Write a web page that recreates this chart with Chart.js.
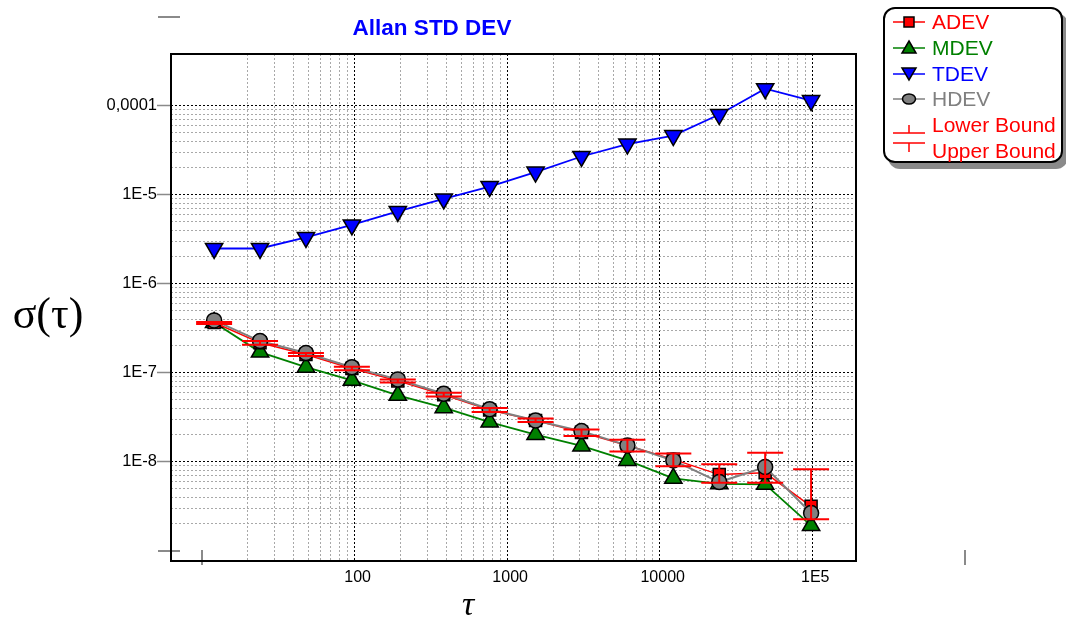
<!DOCTYPE html>
<html>
<head>
<meta charset="utf-8">
<script src="https://cdn.jsdelivr.net/npm/chart.js@4.4.1/dist/chart.umd.min.js"></script>
<style>
body { margin: 0; background: #fff; }
#wrap { position: relative; width: 1066px; height: 628px; overflow: hidden; font-family: "Liberation Sans", Arial, sans-serif; }
#chart { position: absolute; left: 0; top: 0; }
#title { position: absolute; left: 232px; width: 400px; top: 17px; line-height: 22px; text-align: center; color: #0000ff; font-weight: bold; font-size: 22.5px; }
#ylab { position: absolute; left: 0; width: 96px; top: 289px; line-height: 50px; text-align: center; font-family: "Liberation Serif", "Times New Roman", serif; font-size: 44px; }
#xlab { position: absolute; left: 418px; width: 100px; top: 584px; line-height: 40px; text-align: center; font-family: "Liberation Serif", "Times New Roman", serif; font-style: italic; font-size: 34px; }
#legend { position: absolute; left: 883px; top: 7px; width: 176px; height: 152px; border: 2px solid #000; border-radius: 12px; background: #fff; box-shadow: 5px 6px 0 #8a8a8a; }
#legend .row { position: absolute; left: 0; height: 24px; width: 176px; }
#legend .row svg { position: absolute; left: 0; top: 0; }
#legend .row span { position: absolute; left: 47px; top: 0; line-height: 24px; font-size: 21px; white-space: nowrap; }
</style>
</head>
<body>
<div id="wrap">
  <canvas id="chart" width="1066" height="628"></canvas>
  <div id="title">Allan STD DEV</div>
  <div id="ylab">σ(τ)</div>
  <div id="xlab">τ</div>
  <div id="legend"></div>
</div>
<script>
// averaging times (s)
const tau = [12, 24, 48, 96, 192, 384, 768, 1536, 3072, 6144, 12288, 24576, 49152, 98304];

// deviations
const adev = [3.66e-7, 2.16e-7, 1.60e-7, 1.11e-7, 8.07e-8, 5.65e-8, 3.79e-8, 2.90e-8, 2.13e-8, 1.52e-8, 1.06e-8, 7.14e-9, 7.48e-9, 3.14e-9];
const mdev = [3.66e-7, 1.70e-7, 1.15e-7, 8.18e-8, 5.55e-8, 4.03e-8, 2.78e-8, 2.01e-8, 1.50e-8, 1.03e-8, 6.48e-9, 5.63e-9, 5.55e-9, 1.91e-9];
const tdev = [2.48e-6, 2.48e-6, 3.30e-6, 4.56e-6, 6.46e-6, 8.93e-6, 1.23e-5, 1.79e-5, 2.68e-5, 3.70e-5, 4.61e-5, 7.93e-5, 1.55e-4, 1.14e-4];
const hdev = [3.86e-7, 2.26e-7, 1.66e-7, 1.15e-7, 8.39e-8, 5.79e-8, 3.88e-8, 2.90e-8, 2.20e-8, 1.52e-8, 1.03e-8, 5.89e-9, 8.69e-9, 2.64e-9];

// ADEV confidence bounds
const lowerBound = [3.52e-7, 2.06e-7, 1.54e-7, 1.06e-7, 7.76e-8, 5.40e-8, 3.60e-8, 2.78e-8, 1.94e-8, 1.30e-8, 8.84e-9, 5.80e-9, 5.80e-9, 2.25e-9];
const upperBound = [3.71e-7, 2.26e-7, 1.66e-7, 1.16e-7, 8.39e-8, 5.92e-8, 3.99e-8, 3.04e-8, 2.30e-8, 1.76e-8, 1.23e-8, 9.31e-9, 1.26e-8, 8.18e-9];

// axes
const xRange = [6.26, 1.936e5];
const yRange = [7.64e-10, 3.80e-4];
const xTickValues = [100, 1000, 10000, 100000];
const xTickText = ['100', '1000', '10000', '1E5'];
const yTickValues = [1e-8, 1e-7, 1e-6, 1e-5, 1e-4];
const yTickText = ['1E-8', '1E-7', '1E-6', '1E-5', '0,0001'];
const xGridDecades = [1, 2, 3, 4];
const yGridDecades = [-9, -8, -7, -6, -5];
const xOuterTicks = [10, 1e6];
const yOuterTicks = [1e-9, 1e-3];

const FONT = '"Liberation Sans", Arial, sans-serif';

function gridValues(decades) {
    const out = [];
    decades.forEach(n => {
        for (let k = 2; k <= 10; k++) out.push(k * Math.pow(10, n));
    });
    return out;
}

function isDecade(v) {
    const l = Math.log10(v);
    return Math.abs(l - Math.round(l)) < 1e-6;
}

function labelFor(v, values, texts) {
    const i = values.findIndex(t => Math.abs(Math.log10(t) - Math.log10(v)) < 1e-6);
    return i >= 0 ? texts[i] : '';
}

function points(values) {
    return tau.map((t, i) => ({ x: t, y: values[i] }));
}

const series = [
    { label: 'ADEV', values: adev, color: '#ff0000', marker: 'rect', radius: 8.5, rotation: 0, width: 1.5, order: 2 },
    { label: 'MDEV', values: mdev, color: '#008000', marker: 'triangle', radius: 10, rotation: 0, width: 1.8, order: 3 },
    { label: 'TDEV', values: tdev, color: '#0000ff', marker: 'triangle', radius: 10, rotation: 180, width: 1.8, order: 4 },
    { label: 'HDEV', values: hdev, color: '#808080', marker: 'circle', radius: 7.5, rotation: 0, width: 2, order: 1 }
];

// red error bars with caps, drawn on top of the series
const errorBars = {
    id: 'errorBars',
    afterDatasetsDraw(chart) {
        const { ctx, scales: { x, y } } = chart;
        ctx.save();
        ctx.strokeStyle = '#ff0000';
        ctx.lineWidth = 2;
        tau.forEach((t, i) => {
            const px = x.getPixelForValue(t);
            const lo = y.getPixelForValue(lowerBound[i]);
            const hi = y.getPixelForValue(upperBound[i]);
            ctx.beginPath();
            ctx.moveTo(px, lo); ctx.lineTo(px, hi);
            ctx.moveTo(px - 18, lo); ctx.lineTo(px + 18, lo);
            ctx.moveTo(px - 18, hi); ctx.lineTo(px + 18, hi);
            ctx.stroke();
        });
        ctx.restore();
    }
};

// plot frame and the stray decade ticks outside the range
const frame = {
    id: 'frame',
    afterDraw(chart) {
        const { ctx, chartArea: a, scales: { x, y } } = chart;
        ctx.save();
        ctx.strokeStyle = '#8a8a8a';
        ctx.lineWidth = 2;
        xOuterTicks.forEach(v => {
            const px = Math.round(x.getPixelForValue(v));
            ctx.beginPath(); ctx.moveTo(px, a.bottom - 11); ctx.lineTo(px, a.bottom + 4); ctx.stroke();
        });
        yOuterTicks.forEach(v => {
            const py = Math.round(y.getPixelForValue(v));
            ctx.beginPath(); ctx.moveTo(a.left - 13, py); ctx.lineTo(a.left + 9, py); ctx.stroke();
        });
        ctx.strokeStyle = '#000';
        ctx.lineWidth = 2;
        ctx.strokeRect(a.left, a.top, a.right - a.left, a.bottom - a.top);
        ctx.restore();
    }
};

const datasets = series.map(s => ({
    label: s.label,
    data: points(s.values),
    borderColor: s.color,
    backgroundColor: s.color,
    borderWidth: s.width,
    pointStyle: s.marker,
    pointRotation: s.rotation,
    pointRadius: s.radius,
    pointBackgroundColor: s.color,
    pointBorderColor: '#000',
    pointBorderWidth: 1.5,
    tension: 0,
    order: s.order
}));

new Chart(document.getElementById('chart').getContext('2d'), {
    type: 'line',
    data: { datasets: datasets },
    options: {
        responsive: false,
        animation: false,
        layout: { padding: { left: 0, top: 54, right: 210, bottom: 0 } },
        plugins: { legend: { display: false }, tooltip: { enabled: false }, title: { display: false } },
        scales: {
            x: {
                type: 'logarithmic',
                min: xRange[0],
                max: xRange[1],
                afterBuildTicks: s => { s.ticks = gridValues(xGridDecades).map(v => ({ value: v })); },
                afterFit: s => { s.height = 67; },
                ticks: {
                    autoSkip: false, maxRotation: 0, minRotation: 0, padding: 7, labelOffset: 3,
                    color: '#000', font: { family: FONT, size: 16 },
                    callback: v => labelFor(v, xTickValues, xTickText)
                },
                grid: {
                    drawTicks: false,
                    lineWidth: 1,
                    color: c => (c.tick && isDecade(c.tick.value)) ? '#000' : '#a8a8a8'
                },
                border: { display: false, dash: [2, 2] }
            },
            y: {
                type: 'logarithmic',
                min: yRange[0],
                max: yRange[1],
                afterBuildTicks: s => { s.ticks = gridValues(yGridDecades).map(v => ({ value: v })); },
                afterFit: s => { s.width = 171; },
                ticks: {
                    autoSkip: false, padding: 0,
                    color: '#000', font: { family: FONT, size: 16.5 },
                    callback: v => labelFor(v, yTickValues, yTickText)
                },
                grid: {
                    drawTicks: true,
                    tickLength: 14,
                    tickWidth: 1.5,
                    tickBorderDash: [],
                    tickColor: c => (c.tick && isDecade(c.tick.value)) ? '#8a8a8a' : 'rgba(0,0,0,0)',
                    lineWidth: 1,
                    color: c => (c.tick && isDecade(c.tick.value)) ? '#000' : '#a8a8a8'
                },
                border: { display: false, dash: [2, 2] }
            }
        }
    },
    plugins: [errorBars, frame]
});

// legend box built from the same series list
function markerSvg(s) {
    const f = `fill="${s.color}" stroke="#000" stroke-width="1.5"`;
    if (s.marker === 'rect') return `<rect x="19" y="7" width="10" height="10" ${f}/>`;
    if (s.marker === 'circle') return `<ellipse cx="24" cy="12" rx="6.5" ry="5" ${f}/>`;
    if (s.rotation === 180) return `<polygon points="17,6 31,6 24,18" ${f}/>`;
    return `<polygon points="24,5 31,17 17,17" ${f}/>`;
}

const legend = document.getElementById('legend');
const rowTop = i => 0.7 + i * 25.9;
series.forEach((s, i) => {
    const row = document.createElement('div');
    row.className = 'row';
    row.style.top = rowTop(i) + 'px';
    row.innerHTML = `<svg width="48" height="24"><line x1="8" y1="12" x2="40" y2="12" stroke="${s.color}" stroke-width="1.5"/>${markerSvg(s)}</svg><span style="color:${s.color}">${s.label}</span>`;
    legend.appendChild(row);
});
['Lower Bound', 'Upper Bound'].forEach((label, j) => {
    const row = document.createElement('div');
    row.className = 'row';
    row.style.top = rowTop(4 + j) + 'px';
    const svg = j === 0
        ? '<svg width="48" height="24"><path d="M24 12 V20 M8 20 H40" stroke="#ff0000" stroke-width="1.5" fill="none"/></svg>'
        : '<svg width="48" height="24"><path d="M8 4 H40 M24 4 V13" stroke="#ff0000" stroke-width="1.5" fill="none"/></svg>';
    row.innerHTML = `${svg}<span style="color:#ff0000">${label}</span>`;
    legend.appendChild(row);
});
</script>
</body>
</html>
